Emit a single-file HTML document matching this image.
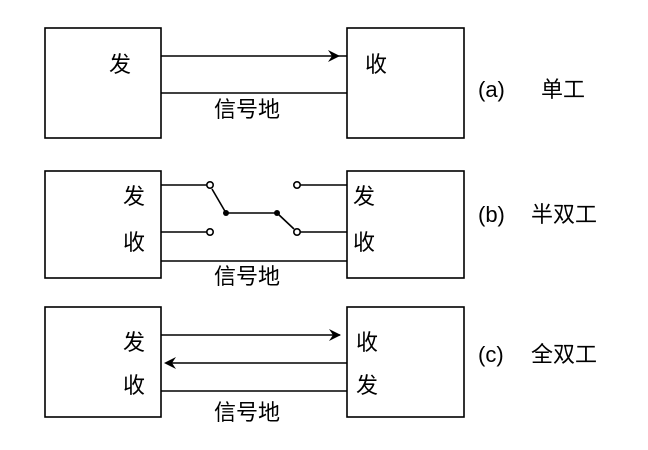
<!DOCTYPE html>
<html><head><meta charset="utf-8"><style>
html,body{margin:0;padding:0;background:#fff}
text{font-family:"Liberation Sans","Noto Sans CJK SC",sans-serif;font-size:22px;fill:#000}
</style></head><body>
<svg width="648" height="445" viewBox="0 0 648 445" xmlns="http://www.w3.org/2000/svg">
<g fill="none" stroke="#000" stroke-width="1.6">
<!-- a -->
<rect x="45" y="28" width="116" height="110"/>
<rect x="347" y="28" width="117" height="110"/>
<line x1="161" y1="56" x2="347" y2="56"/>
<line x1="161" y1="93" x2="347" y2="93"/>
<!-- b -->
<rect x="45" y="171" width="116" height="107"/>
<rect x="347" y="171" width="117" height="107"/>
<line x1="161" y1="185" x2="207" y2="185"/>
<line x1="161" y1="232" x2="207" y2="232"/>
<line x1="161" y1="261" x2="347" y2="261"/>
<line x1="300" y1="185" x2="347" y2="185"/>
<line x1="300" y1="232" x2="347" y2="232"/>
<line x1="212" y1="189" x2="226" y2="213"/>
<line x1="226" y1="213" x2="277" y2="213"/>
<line x1="277" y1="213" x2="294" y2="229"/>
<circle cx="210" cy="185" r="3.2" fill="#fff"/>
<circle cx="210" cy="232" r="3.2" fill="#fff"/>
<circle cx="297" cy="185" r="3.2" fill="#fff"/>
<circle cx="297" cy="232" r="3.2" fill="#fff"/>
<!-- c -->
<rect x="45" y="307" width="116" height="110"/>
<rect x="347" y="307" width="117" height="110"/>
<line x1="161" y1="335" x2="340" y2="335"/>
<line x1="168" y1="363" x2="347" y2="363"/>
<line x1="161" y1="391" x2="347" y2="391"/>
</g>
<g fill="#000">
<circle cx="226" cy="213" r="3"/>
<circle cx="277" cy="213" r="3"/>
<path d="M340 56 L328 50 L332 56 L328 62 Z"/>
<path d="M341 335 L329 329 L333 335 L329 341 Z"/>
<path d="M164 363 L176 357 L172 363 L176 369 Z"/>
</g>
<text x="109" y="72">发</text>
<text x="365" y="72">收</text>
<text x="214" y="117">信号地</text>
<text x="478" y="97">(a)</text>
<text x="541" y="97">单工</text>

<text x="123" y="204">发</text>
<text x="123" y="250">收</text>
<text x="353" y="204">发</text>
<text x="353" y="250">收</text>
<text x="214" y="284">信号地</text>
<text x="478" y="222">(b)</text>
<text x="531" y="222">半双工</text>

<text x="123" y="350">发</text>
<text x="123" y="393">收</text>
<text x="356" y="350">收</text>
<text x="356" y="393">发</text>
<text x="214" y="420">信号地</text>
<text x="478" y="362">(c)</text>
<text x="531" y="362">全双工</text>
</svg>
</body></html>
